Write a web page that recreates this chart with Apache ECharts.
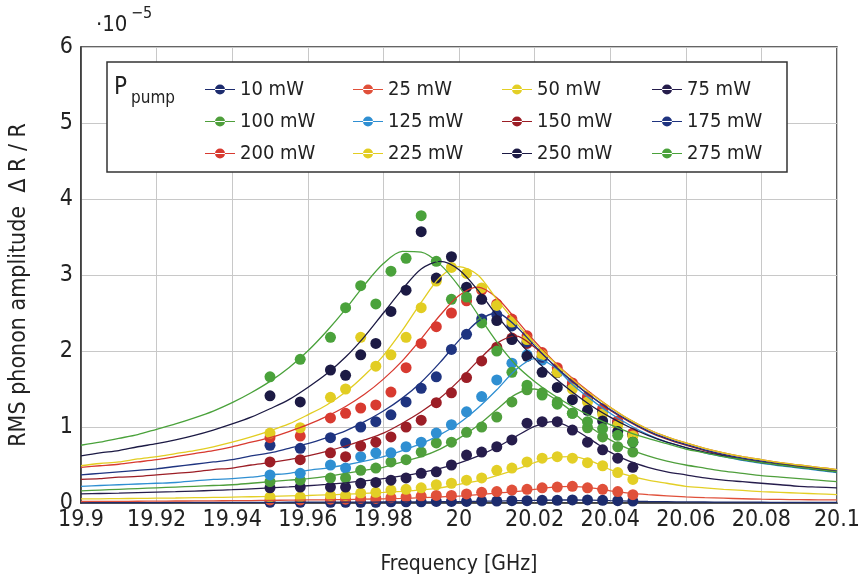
<!DOCTYPE html>
<html>
<head>
<meta charset="utf-8">
<script src="https://cdn.jsdelivr.net/npm/echarts@6/dist/echarts.min.js"></script>
<style>
html, body { margin: 0; padding: 0; background: #fff; }
#chart { width: 863px; height: 583px; }
</style>
</head>
<body>
<div id="chart"></div>
<script>
// measured frequencies (GHz)
var freqPts = [19.95, 19.958, 19.966, 19.970, 19.974, 19.978, 19.982, 19.986, 19.990, 19.994, 19.998,
  20.002, 20.006, 20.010, 20.014, 20.018, 20.022, 20.026, 20.030, 20.034, 20.038, 20.042, 20.046];
var fitFreq = [19.900, 19.905, 19.910, 19.915, 19.920, 19.925, 19.930, 19.935, 19.940, 19.945,
  19.950, 19.955, 19.960, 19.965, 19.970, 19.975, 19.980, 19.985, 19.990, 19.995,
  20.000, 20.005, 20.010, 20.015, 20.020, 20.025, 20.030, 20.035, 20.040, 20.045,
  20.050, 20.055, 20.060, 20.065, 20.070, 20.075, 20.080, 20.085, 20.090, 20.095, 20.100];

var powers = ['10 mW', '25 mW', '50 mW', '75 mW', '100 mW', '125 mW', '150 mW', '175 mW',
  '200 mW', '225 mW', '250 mW', '275 mW'];
var colors = ['#1d2c6e', '#e0503a', '#e3cf26', '#261d4c', '#4f9f3c', '#2f8fd2', '#9c1e26', '#1f3480',
  '#d83a30', '#e2cd22', '#1c1a44', '#4aa23b'];

// amplitude dR/R in units of 1e-5, one value per freqPts entry
var pts10  = [0.01, 0.01, 0.01, 0.01, 0.01, 0.01, 0.015, 0.015, 0.015, 0.02, 0.02, 0.02, 0.025, 0.025, 0.03, 0.03, 0.035, 0.035, 0.04, 0.04, 0.035, 0.03, 0.025];
var pts25  = [0.04, 0.04, 0.05, 0.05, 0.06, 0.06, 0.07, 0.08, 0.09, 0.1, 0.1, 0.12, 0.14, 0.15, 0.17, 0.18, 0.2, 0.21, 0.22, 0.2, 0.18, 0.15, 0.11];
var pts50  = [0.08, 0.08, 0.1, 0.1, 0.13, 0.14, 0.17, 0.18, 0.2, 0.24, 0.26, 0.3, 0.33, 0.43, 0.46, 0.54, 0.59, 0.61, 0.59, 0.53, 0.49, 0.4, 0.31];
var pts75  = [0.2, 0.21, 0.21, 0.21, 0.26, 0.27, 0.3, 0.33, 0.39, 0.41, 0.5, 0.63, 0.67, 0.74, 0.83, 1.05, 1.07, 1.07, 0.96, 0.8, 0.7, 0.59, 0.47];
var pts100 = [0.28, 0.3, 0.33, 0.33, 0.43, 0.46, 0.54, 0.57, 0.67, 0.79, 0.8, 0.93, 1.0, 1.13, 1.33, 1.49, 1.45, 1.33, 1.18, 0.99, 0.87, 0.74, 0.67];
var pts125 = [0.37, 0.39, 0.5, 0.46, 0.61, 0.66, 0.66, 0.74, 0.8, 0.92, 1.03, 1.2, 1.4, 1.62, 1.84, 1.95, 1.88, 1.72, 1.55, 1.37, 1.2, 1.05, 0.9];
var pts150 = [0.54, 0.57, 0.66, 0.61, 0.75, 0.8, 0.87, 1.0, 1.09, 1.32, 1.45, 1.65, 1.87, 2.05, 2.17, 2.1, 1.92, 1.72, 1.55, 1.38, 1.22, 1.06, 0.9];
var pts175 = [0.76, 0.72, 0.86, 0.79, 1.0, 1.07, 1.16, 1.33, 1.51, 1.66, 2.02, 2.22, 2.42, 2.48, 2.33, 2.12, 1.92, 1.72, 1.54, 1.37, 1.21, 1.06, 0.9];
var pts200 = [0.86, 0.88, 1.12, 1.18, 1.25, 1.29, 1.46, 1.78, 2.1, 2.32, 2.5, 2.66, 2.8, 2.62, 2.42, 2.2, 1.98, 1.78, 1.58, 1.4, 1.24, 1.08, 0.92];
var pts225 = [0.92, 0.99, 1.39, 1.5, 2.18, 1.8, 1.95, 2.18, 2.57, 2.92, 3.1, 3.02, 2.83, 2.6, 2.38, 2.15, 1.95, 1.72, 1.5, 1.33, 1.17, 1.02, 0.88];
var pts250 = [1.41, 1.33, 1.75, 1.68, 1.95, 2.1, 2.52, 2.8, 3.57, 2.96, 3.24, 2.84, 2.68, 2.4, 2.15, 1.93, 1.72, 1.52, 1.36, 1.22, 1.08, 0.94, 0.8];
var pts275 = [1.66, 1.89, 2.18, 2.57, 2.86, 2.62, 3.05, 3.22, 3.78, 3.18, 2.68, 2.71, 2.37, 2.0, 1.72, 1.55, 1.42, 1.3, 1.18, 1.07, 0.98, 0.89, 0.8];

// fit curves, one value per fitFreq entry
var fit10  = [0.005, 0.005, 0.006, 0.006, 0.006, 0.007, 0.007, 0.008, 0.008, 0.009, 0.009, 0.01, 0.01, 0.011, 0.011, 0.012, 0.013, 0.014, 0.015, 0.017,
  0.019, 0.022, 0.025, 0.03, 0.034, 0.038, 0.04, 0.037, 0.03, 0.025, 0.02, 0.017, 0.015, 0.013, 0.012, 0.011, 0.01, 0.009, 0.009, 0.008, 0.008];
var fit25  = [0.02, 0.021, 0.022, 0.023, 0.025, 0.026, 0.027, 0.029, 0.03, 0.032, 0.035, 0.037, 0.04, 0.042, 0.045, 0.05, 0.055, 0.06, 0.07, 0.08,
  0.09, 0.11, 0.13, 0.15, 0.18, 0.21, 0.22, 0.2, 0.16, 0.13, 0.11, 0.095, 0.08, 0.07, 0.063, 0.056, 0.05, 0.047, 0.044, 0.042, 0.04];
var fit50  = [0.053, 0.055, 0.058, 0.06, 0.063, 0.066, 0.07, 0.073, 0.077, 0.082, 0.087, 0.093, 0.099, 0.107, 0.116, 0.126, 0.139, 0.154, 0.173, 0.2,
  0.245, 0.29, 0.36, 0.44, 0.53, 0.6, 0.61, 0.55, 0.44, 0.36, 0.3, 0.26, 0.22, 0.2, 0.18, 0.165, 0.15, 0.14, 0.13, 0.12, 0.11];
var fit75  = [0.12, 0.125, 0.13, 0.136, 0.142, 0.149, 0.157, 0.166, 0.175, 0.186, 0.198, 0.211, 0.227, 0.245, 0.266, 0.29, 0.32, 0.356, 0.4, 0.455,
  0.526, 0.617, 0.733, 0.873, 1.008, 1.07, 0.98, 0.83, 0.67, 0.55, 0.47, 0.41, 0.37, 0.33, 0.3, 0.28, 0.26, 0.24, 0.22, 0.21, 0.2];
var fit100 = [0.16, 0.17, 0.18, 0.19, 0.2, 0.21, 0.22, 0.23, 0.24, 0.26, 0.28, 0.3, 0.32, 0.35, 0.39, 0.43, 0.47, 0.54, 0.61, 0.71,
  0.85, 1.02, 1.23, 1.43, 1.5, 1.38, 1.2, 0.99, 0.83, 0.71, 0.62, 0.55, 0.5, 0.46, 0.42, 0.39, 0.36, 0.34, 0.32, 0.3, 0.28];
var fit125 = [0.22, 0.23, 0.24, 0.25, 0.26, 0.27, 0.29, 0.31, 0.32, 0.34, 0.37, 0.39, 0.43, 0.46, 0.5, 0.55, 0.61, 0.69, 0.78, 0.9,
  1.05, 1.25, 1.49, 1.75, 1.9, 1.8, 1.56, 1.36, 1.18, 1.03, 0.9, 0.8, 0.73, 0.66, 0.61, 0.56, 0.52, 0.49, 0.46, 0.43, 0.4];
var fit150 = [0.31, 0.32, 0.34, 0.35, 0.37, 0.39, 0.41, 0.44, 0.46, 0.5, 0.53, 0.57, 0.62, 0.68, 0.75, 0.83, 0.92, 1.05, 1.2, 1.38,
  1.61, 1.87, 2.1, 2.2, 2.05, 1.82, 1.6, 1.4, 1.22, 1.07, 0.94, 0.84, 0.76, 0.69, 0.63, 0.58, 0.54, 0.51, 0.48, 0.45, 0.42];
var fit175 = [0.37, 0.39, 0.41, 0.43, 0.45, 0.48, 0.51, 0.54, 0.57, 0.62, 0.66, 0.72, 0.78, 0.86, 0.95, 1.07, 1.21, 1.38, 1.59, 1.85,
  2.14, 2.39, 2.5, 2.33, 2.07, 1.82, 1.6, 1.4, 1.23, 1.08, 0.95, 0.85, 0.77, 0.7, 0.64, 0.59, 0.55, 0.52, 0.49, 0.46, 0.43];
var fit200 = [0.47, 0.49, 0.51, 0.54, 0.57, 0.61, 0.65, 0.69, 0.74, 0.8, 0.86, 0.94, 1.03, 1.14, 1.27, 1.43, 1.63, 1.87, 2.16, 2.47,
  2.73, 2.84, 2.7, 2.42, 2.13, 1.87, 1.64, 1.44, 1.26, 1.1, 0.97, 0.87, 0.79, 0.72, 0.66, 0.61, 0.57, 0.53, 0.5, 0.47, 0.44];
var fit225 = [0.49, 0.52, 0.54, 0.58, 0.61, 0.65, 0.69, 0.74, 0.8, 0.87, 0.95, 1.04, 1.16, 1.29, 1.46, 1.68, 1.94, 2.27, 2.64, 2.97,
  3.11, 3.0, 2.68, 2.38, 2.1, 1.86, 1.63, 1.43, 1.26, 1.1, 0.97, 0.87, 0.79, 0.72, 0.66, 0.61, 0.57, 0.53, 0.5, 0.47, 0.44];
var fit250 = [0.62, 0.66, 0.69, 0.74, 0.78, 0.83, 0.89, 0.96, 1.04, 1.13, 1.24, 1.36, 1.52, 1.7, 1.92, 2.19, 2.5, 2.81, 3.08, 3.18,
  3.07, 2.8, 2.47, 2.17, 1.9, 1.66, 1.46, 1.28, 1.13, 1.0, 0.89, 0.8, 0.73, 0.67, 0.62, 0.57, 0.53, 0.5, 0.47, 0.44, 0.41];
var fit275 = [0.76, 0.8, 0.85, 0.9, 0.97, 1.04, 1.12, 1.21, 1.32, 1.45, 1.6, 1.78, 2.0, 2.26, 2.55, 2.87, 3.15, 3.31, 3.3, 3.14,
  2.85, 2.48, 2.12, 1.82, 1.6, 1.42, 1.27, 1.14, 1.03, 0.93, 0.85, 0.78, 0.71, 0.66, 0.61, 0.57, 0.53, 0.5, 0.47, 0.44, 0.41];

var yTicks = [0, 1, 2, 3, 4, 5, 6];

var allPts = [pts10, pts25, pts50, pts75, pts100, pts125, pts150, pts175, pts200, pts225, pts250, pts275];
var allFits = [fit10, fit25, fit50, fit75, fit100, fit125, fit150, fit175, fit200, fit225, fit250, fit275];

var cond = "'DejaVu Sans Condensed', 'Liberation Sans Narrow', sans-serif";
var legendIcon = 'path://M0,4.4H30V5.6H0Z M10,5A5,5 0 1,0 20,5A5,5 0 1,0 10,5Z';

var myChart = echarts.init(document.getElementById('chart'));

var series = [];
// fit lines underneath
powers.forEach(function (name, i) {
    series.push({
        name: name,
        type: 'line',
        data: fitFreq.map(function (f, k) { return [f, allFits[i][k]]; }),
        smooth: 0.3,
        showSymbol: false,
        symbol: 'none',
        silent: true,
        lineStyle: { color: colors[i], width: 1.3 },
        itemStyle: { color: colors[i] }
    });
});
// measured points on top
powers.forEach(function (name, i) {
    series.push({
        name: name,
        type: 'scatter',
        data: freqPts.map(function (f, k) { return [f, allPts[i][k]]; }),
        symbolSize: 11,
        itemStyle: { color: colors[i], opacity: 1 }
    });
});

// 4 legend columns, 3 rows
var legends = [];
var colLeft = [200, 348, 497, 647];
for (var c = 0; c < 4; c++) {
    legends.push({
        orient: 'vertical',
        left: colLeft[c],
        top: 74,
        itemGap: 11,
        itemWidth: 30,
        itemHeight: 10,
        icon: legendIcon,
        selectedMode: false,
        data: [powers[c], powers[c + 4], powers[c + 8]],
        textStyle: { fontFamily: cond, fontSize: 20, color: '#222', lineHeight: 21 }
    });
}

var option = {
    backgroundColor: '#fff',
    animation: false,
    grid: {
        left: 80, right: 18, top: 47, bottom: 80,
        show: true, borderColor: '#333', borderWidth: 1.5, backgroundColor: 'transparent'
    },
    legend: legends,
    xAxis: {
        type: 'value',
        min: 19.9, max: 20.1, interval: 0.02,
        name: 'Frequency [GHz]',
        nameLocation: 'middle',
        nameGap: 51,
        nameTextStyle: { fontFamily: cond, fontSize: 21, color: '#222' },
        axisLine: { show: true, lineStyle: { color: '#333', width: 1.5 } },
        axisTick: { show: false },
        axisLabel: { fontFamily: cond, fontSize: 23, color: '#222', margin: 6 },
        splitLine: { show: true, lineStyle: { color: '#c8c8c8', width: 1 } }
    },
    yAxis: {
        type: 'value',
        min: yTicks[0], max: yTicks[yTicks.length - 1], interval: 1,
        name: 'RMS phonon amplitude  \u0394 R / R',
        nameLocation: 'middle',
        nameGap: 50,
        nameTextStyle: { fontFamily: cond, fontSize: 23, color: '#222', padding: [0, 20, 0, 0] },
        axisLine: { show: true, lineStyle: { color: '#333', width: 1.5 } },
        axisTick: { show: false },
        axisLabel: { fontFamily: cond, fontSize: 23, color: '#222', margin: 8 },
        splitLine: { show: true, lineStyle: { color: '#c8c8c8', width: 1 } }
    },
    graphic: [
        {
            type: 'rect', z: 3,
            shape: { x: 107, y: 62, width: 680, height: 110 },
            style: { fill: '#fff', stroke: '#333', lineWidth: 1.5 }
        },
        { type: 'text', z: 5, left: 114, top: 76, style: { text: 'P', font: "24px 'DejaVu Sans Condensed', sans-serif", fill: '#222' } },
        { type: 'text', z: 5, left: 131, top: 90, style: { text: 'pump', font: "17px 'DejaVu Sans Condensed', sans-serif", fill: '#222' } },
        { type: 'text', z: 5, left: 96, top: 14, style: { text: '\u00b710', font: "22px 'DejaVu Sans Condensed', sans-serif", fill: '#222' } },
        { type: 'text', z: 5, left: 131, top: 6, style: { text: '\u22125', font: "16px 'DejaVu Sans Condensed', sans-serif", fill: '#222' } }
    ],
    series: series
};

myChart.setOption(option);
</script>
</body>
</html>
